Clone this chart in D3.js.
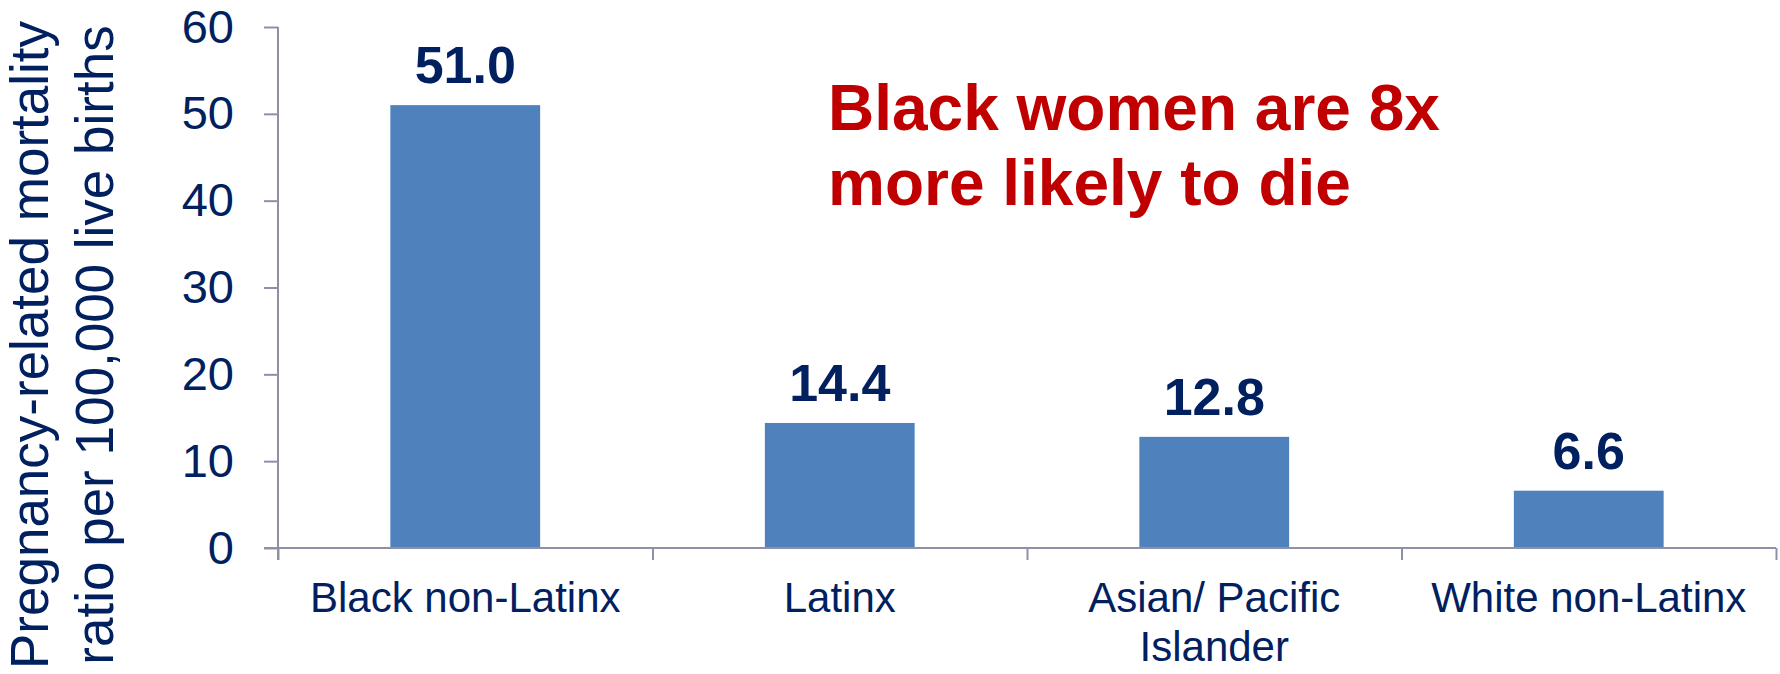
<!DOCTYPE html>
<html>
<head>
<meta charset="utf-8">
<script src="https://cdn.jsdelivr.net/npm/d3@7"></script>
<style>
  html, body { margin: 0; padding: 0; background: #fff; }
  svg { display: block; font-family: "Liberation Sans", Arial, sans-serif; }
</style>
</head>
<body>
<figure style="margin:0"></figure>
<script>
// data
const categories = ["Black non-Latinx", "Latinx", "Asian/ Pacific\nIslander", "White non-Latinx"];
const ratios = [51.0, 14.4, 12.8, 6.6];
const yTicks = [0, 10, 20, 30, 40, 50, 60];
const yTitle = ["Pregnancy-related mortality", "ratio per 100,000 live births"];
const note = ["Black women are 8x", "more likely to die"];

const W = 1780, H = 674;
const navy = "#002060", barBlue = "#4F81BD", axisGrey = "#8E90A6", red = "#C00000";

const svg = d3.select("figure")
  .append("svg")
  .attr("width", W)
  .attr("height", H);

const plot = { left: 278, right: 1776, top: 27, bottom: 548 };

const y = d3.scaleLinear()
  .domain([0, 60])
  .range([plot.bottom, plot.top]);

const x = d3.scaleBand()
  .domain(categories)
  .range([plot.left, plot.right])
  .paddingInner(0.6)
  .paddingOuter(0.3);

// bars
svg.append("g")
  .selectAll("rect")
  .data(categories)
  .join("rect")
  .attr("x", d => x(d))
  .attr("width", x.bandwidth())
  .attr("y", (d, i) => y(ratios[i]))
  .attr("height", (d, i) => y(0) - y(ratios[i]))
  .attr("fill", barBlue);

// value labels
svg.append("g")
  .selectAll("text")
  .data(categories)
  .join("text")
  .attr("x", d => x(d) + x.bandwidth() / 2)
  .attr("y", (d, i) => y(ratios[i]) - 22)
  .attr("text-anchor", "middle")
  .attr("font-size", 52)
  .attr("font-weight", "bold")
  .attr("fill", navy)
  .text((d, i) => ratios[i].toFixed(1));

// y axis
const yAxis = svg.append("g")
  .attr("transform", `translate(${plot.left},0)`)
  .call(d3.axisLeft(y).tickValues(yTicks).tickSize(14).tickPadding(30));

yAxis.select(".domain")
  .attr("d", `M0,${plot.top}V${plot.bottom + 12}`);

// x axis: line plus ticks at category boundaries
const xEdges = d3.scaleLinear()
  .domain([0, categories.length])
  .range([plot.left, plot.right]);

const xAxis = svg.append("g")
  .attr("transform", `translate(0,${plot.bottom})`)
  .call(d3.axisBottom(xEdges).ticks(categories.length).tickSize(12).tickFormat(""));

xAxis.select(".domain")
  .attr("d", `M${plot.left - 14},0H${plot.right}`);

svg.selectAll(".domain, .tick line")
  .attr("stroke", axisGrey)
  .attr("stroke-width", 2);

yAxis.selectAll(".tick text")
  .attr("font-size", 47)
  .attr("font-family", "Liberation Sans, Arial, sans-serif")
  .attr("fill", navy);

// category labels
svg.append("g")
  .selectAll("text")
  .data(categories)
  .join("text")
  .attr("x", d => x(d) + x.bandwidth() / 2)
  .attr("y", plot.bottom + 64)
  .attr("text-anchor", "middle")
  .attr("font-size", 42)
  .attr("fill", navy)
  .selectAll("tspan")
  .data(d => d.split("\n"))
  .join("tspan")
  .attr("x", function () { return d3.select(this.parentNode).attr("x"); })
  .attr("dy", (d, i) => i === 0 ? 0 : 49)
  .text(d => d);

// y axis title
svg.append("text")
  .attr("transform", "translate(48,345) rotate(-90)")
  .attr("text-anchor", "middle")
  .attr("font-size", 53)
  .attr("fill", navy)
  .selectAll("tspan")
  .data(yTitle)
  .join("tspan")
  .attr("x", 0)
  .attr("y", (d, i) => i * 65)
  .text(d => d);

// red annotation
svg.append("text")
  .attr("font-size", 64)
  .attr("font-weight", "bold")
  .attr("fill", red)
  .selectAll("tspan")
  .data(note)
  .join("tspan")
  .attr("x", 828)
  .attr("y", (d, i) => 130 + i * 75)
  .text(d => d);
</script>
</body>
</html>
